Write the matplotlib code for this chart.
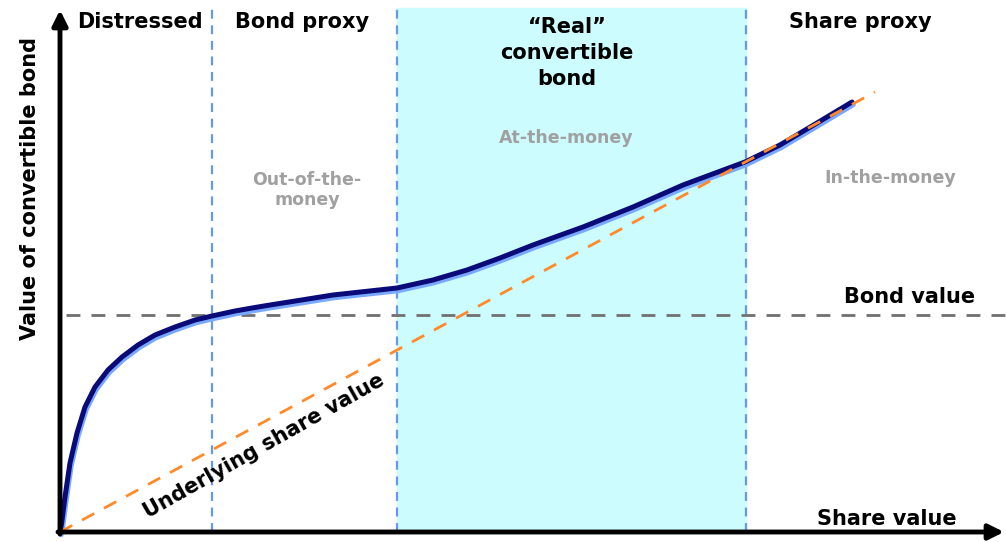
import matplotlib.pyplot as plt
import numpy as np

# data in chart units (origin = axis corner)
share_x = [0, 1.5, 5, 10, 17, 25, 35, 48, 62, 78, 95, 115, 135, 152, 175, 195, 207,
           273, 337, 373, 407, 440, 473, 523, 573, 623, 685, 720, 757, 792]
bond_y = [0, 8, 35, 69, 99, 125, 145, 162, 175, 187, 197, 205, 212, 216, 221, 224.5, 226.5,
          237, 244, 252, 262, 274, 287, 305, 325, 347, 370, 387, 409, 430]
share_line_x = [0, 815]
share_line_y = [0, 440]
bond_floor = 217
zone_edges = [152, 337, 686]
band_top = 524

fig = plt.figure(figsize=(10.06, 5.42), dpi=100)
ax = fig.add_axes([0, 0, 1, 1])
ax.set_xlim(-60, 946)
ax.set_ylim(-10, 532)
ax.axis('off')

# at-the-money band
ax.fill_between([zone_edges[1], zone_edges[2]], 0, band_top, color='#ccfcfd', zorder=0)

# zone separators
for x in zone_edges:
    ax.plot([x, x], [0, band_top], color='#6699ee', lw=1.6, ls=(0, (4, 3)), zorder=1)

# bond floor
ax.plot([6, 946], [bond_floor, bond_floor], color='#707070', lw=2, ls=(0, (5, 4)), zorder=2)

# convertible bond curve with light shadow
bx = np.array(share_x)
by = np.array(bond_y)
ax.plot(bx + 1, by - 2.5, color='#7aa8ff', lw=4, solid_capstyle='round',
        solid_joinstyle='round', zorder=4)
ax.plot(bx, by, color='#0a0a78', lw=3.6, solid_capstyle='round',
        solid_joinstyle='round', zorder=5)

# share value line
ax.plot(share_line_x, share_line_y, color='#ff8a2a', lw=2, ls=(0, (5, 4)), zorder=6)

# axes arrows
arrow = dict(arrowstyle='-|>,head_width=0.45,head_length=0.9', color='black', lw=3.5,
             shrinkA=0, shrinkB=0)
ax.annotate('', xy=(0, 522), xytext=(0, -2), arrowprops=arrow, zorder=7)
ax.annotate('', xy=(944, 0), xytext=(-2, 0), arrowprops=arrow, zorder=7)

bold = dict(fontweight='bold', color='black', fontsize=15, ha='center', va='center', family='DejaVu Sans')
ax.text(80, 510, 'Distressed', **bold)
ax.text(242, 510, 'Bond proxy', **bold)
ax.text(507, 479, '\u201cReal\u201d\nconvertible\nbond', linespacing=1.35, **bold)
ax.text(800, 510, 'Share proxy', **bold)
ax.text(850, 235, 'Bond value', **bold)
ax.text(827, 13, 'Share value', **bold)
ax.text(204, 86, 'Underlying share value', rotation=29.5, rotation_mode='anchor', **bold)
ax.text(-30, 344, 'Value of convertible bond', rotation=90, **bold)

grey = dict(fontweight='bold', color='#a0a0a0', fontsize=12.5, ha='center', va='center', family='DejaVu Sans')
ax.text(247, 342, 'Out-of-the-\nmoney', linespacing=1.2, **grey)
ax.text(506, 394, 'At-the-money', **grey)
ax.text(830, 354, 'In-the-money', **grey)

fig.savefig('out.png', dpi=100)
